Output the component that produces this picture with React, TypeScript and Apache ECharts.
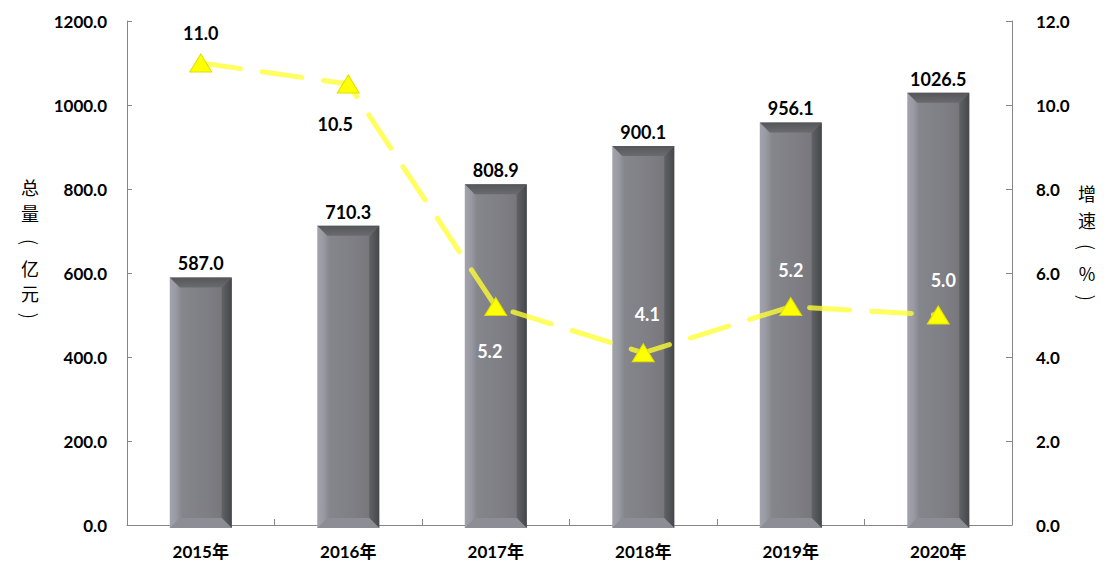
import React, { useEffect, useRef } from "react";
import * as echarts from "echarts";

const categories = ["2015年", "2016年", "2017年", "2018年", "2019年", "2020年"];
const totals = [587.0, 710.3, 808.9, 900.1, 956.1, 1026.5];
const growth = [11.0, 10.5, 5.2, 4.1, 5.2, 5.0];

const leftTitle = ["总", "量", "(", "亿", "元", ")"];
const rightTitle = ["增", "速", "(", "%", ")"];

const FONT = 'Lato, "Noto Sans CJK SC", sans-serif';
const CJK = '"Noto Sans CJK SC", sans-serif';

const lineLabelStyles = [
  { position: "top", distance: 12, offset: [0, 0], color: "#000" },
  { position: "bottom", distance: 22, offset: [-13, 0], color: "#000" },
  { position: "bottom", distance: 26, offset: [-6, 0], color: "#fff" },
  { position: "top", distance: 20, offset: [4, 0], color: "#fff" },
  { position: "top", distance: 18, offset: [0, 0], color: "#fff" },
  { position: "top", distance: 17, offset: [5, 0], color: "#fff" },
];

function verticalTitle(chars: string[], cx: number, ys: number[]) {
  return chars.map((c, i) => {
    const isParen = c === "(" || c === ")";
    return {
      type: "text",
      x: cx,
      y: ys[i],
      rotation: isParen ? -Math.PI / 2 : 0,
      style: {
        text: c,
        fontSize: isParen ? 20 : 18,
        fill: "#000",
        fontFamily: CJK,
        fontWeight: isParen ? 300 : "normal",
        textAlign: "center",
        textVerticalAlign: "middle",
      },
    };
  });
}

export default function App() {
  const ref = useRef<HTMLDivElement>(null);
  useEffect(() => {
    if (!ref.current) return;
    const chart = echarts.init(ref.current, null, { renderer: "svg" });
    const axisLine = { show: true, lineStyle: { color: "#868686", width: 1 } };
    const renderBar = (params: any, api: any) => {
      const idx = api.value(0);
      const v = api.value(1);
      const top = api.coord([idx, v]);
      const base = api.coord([idx, 0]);
      const w = api.size([1, 0])[0] * 0.42;
      const l = top[0] - w / 2;
      const r = top[0] + w / 2;
      const t = top[1] - 1;
      const b = base[1] + 3;
      const bv = 10;
      return {
        type: "group",
        children: [
          {
            type: "rect",
            shape: { x: l, y: t, width: w, height: b - t },
            style: {
              fill: new echarts.graphic.LinearGradient(0, 0, 1, 0, [
                { offset: 0, color: "#a2a2ac" },
                { offset: 0.1, color: "#9a9aa3" },
                { offset: 0.2, color: "#85858c" },
                { offset: 0.6, color: "#7e7e84" },
                { offset: 0.8, color: "#78787d" },
                { offset: 1, color: "#6c6c71" },
              ]),
            },
          },
          {
            type: "polygon",
            shape: { points: [[r, t], [r, b], [r - bv, b - bv], [r - bv, t + bv]] },
            style: {
              fill: new echarts.graphic.LinearGradient(0, 0, 1, 0, [
                { offset: 0, color: "#606266" },
                { offset: 1, color: "#45474b" },
              ]),
            },
          },
          {
            type: "polygon",
            shape: { points: [[l, b], [r, b], [r - bv, b - bv], [l + bv, b - bv]] },
            style: { fill: "#8d8d95" },
          },
          {
            type: "polygon",
            shape: { points: [[l, t], [r, t], [r - bv, t + bv], [l + bv, t + bv]] },
            style: {
              fill: new echarts.graphic.LinearGradient(0, 0, 0, 1, [
                { offset: 0, color: "#55565a" },
                { offset: 1, color: "#6a6a6f" },
              ]),
            },
          },
          {
            type: "text",
            style: {
              text: v.toFixed(1),
              x: top[0],
              y: t - 5,
              textAlign: "center",
              textVerticalAlign: "bottom",
              fontSize: 18,
              fontWeight: "bold",
              fontFamily: FONT,
              fill: "#000",
            },
          },
        ],
      };
    };
    chart.setOption({
      animation: false,
      backgroundColor: "#fff",
      grid: { left: 127, right: 95, top: 21, bottom: 60 },
      xAxis: {
        type: "category",
        data: categories,
        boundaryGap: true,
        axisLine,
        axisTick: { show: true, inside: true, length: 6, lineStyle: { color: "#868686" } },
        axisLabel: { margin: 18, fontSize: 17, fontWeight: "bold", color: "#000", fontFamily: FONT },
      },
      yAxis: [
        {
          type: "value",
          min: 0,
          max: 1200,
          interval: 200,
          axisLine,
          axisTick: { show: true, inside: true, length: 5, lineStyle: { color: "#868686" } },
          splitLine: { show: false },
          axisLabel: {
            margin: 20,
            fontSize: 17,
            fontWeight: "bold",
            color: "#000",
            fontFamily: FONT,
            formatter: (v: number) => v.toFixed(1),
          },
        },
        {
          type: "value",
          min: 0,
          max: 12,
          interval: 2,
          position: "right",
          axisLine,
          axisTick: { show: true, inside: true, length: 6, lineStyle: { color: "#868686" } },
          splitLine: { show: false },
          axisLabel: {
            margin: 24,
            fontSize: 17,
            fontWeight: "bold",
            color: "#000",
            fontFamily: FONT,
            formatter: (v: number) => v.toFixed(1),
          },
        },
      ],
      graphic: [
        ...verticalTitle(leftTitle, 30, [187, 213, 242, 268, 293, 316]),
        ...verticalTitle(rightTitle, 1087, [193, 220, 247, 273, 298]),
      ],
      series: [
        {
          type: "custom",
          name: "总量",
          yAxisIndex: 0,
          renderItem: renderBar,
          data: totals.map((v, i) => [i, v]),
          z: 2,
        },
        {
          type: "line",
          name: "增速",
          yAxisIndex: 1,
          z: 5,
          data: growth.map((v, i) => ({
            value: v,
            label: {
              show: true,
              position: lineLabelStyles[i].position,
              distance: lineLabelStyles[i].distance,
              offset: lineLabelStyles[i].offset,
              color: lineLabelStyles[i].color,
            },
          })),
          symbol: "triangle",
          symbolSize: [22, 18],
          itemStyle: { color: "#ffff00", borderColor: "#e0e000", borderWidth: 1 },
          lineStyle: {
            color: "rgba(255,255,50,0.78)",
            width: 5,
            type: [40, 22],
            cap: "round",
          },
          label: {
            show: true,
            fontSize: 18,
            fontWeight: "bold",
            fontFamily: FONT,
            formatter: (p: any) => Number(p.value).toFixed(1),
          },
        },
      ],
    });
    return () => chart.dispose();
  }, []);
  return (
    <div
      ref={ref}
      style={{ position: "fixed", left: 0, top: 0, width: 1107, height: 585 }}
    />
  );
}
